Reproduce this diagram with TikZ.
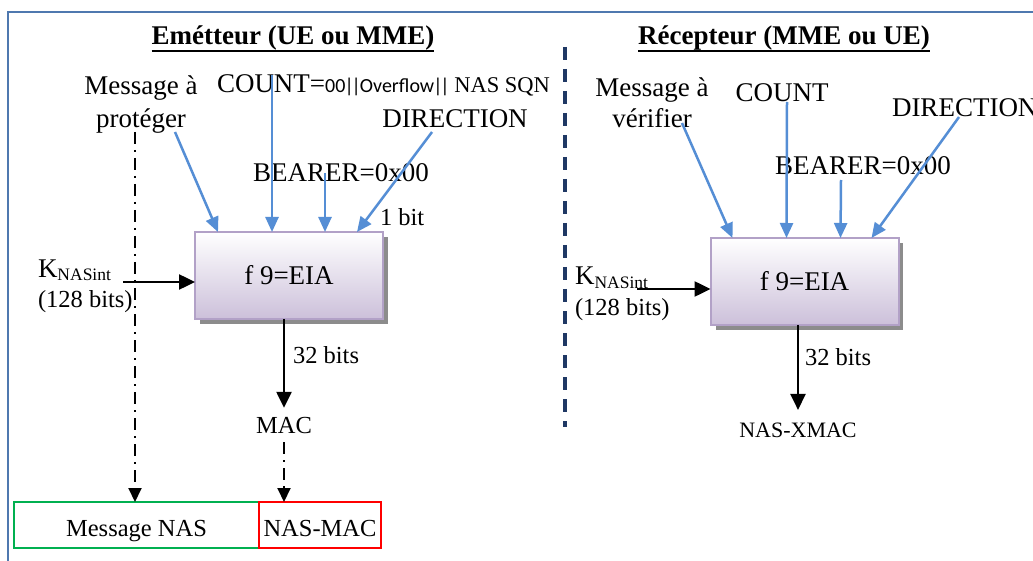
\documentclass[tikz,border=0pt]{standalone}
\usepackage{fontspec}
\setmainfont{Liberation Serif}
\newfontfamily\calibrifont{Carlito}
\usetikzlibrary{arrows.meta,calc}

\definecolor{frameblue}{RGB}{79,120,175}
\definecolor{arrowblue}{RGB}{85,142,213}
\definecolor{sepblue}{RGB}{31,56,100}
\definecolor{boxborder}{RGB}{178,161,199}
\definecolor{boxbottom}{RGB}{204,192,218}
\definecolor{shadowgray}{RGB}{140,140,140}
\definecolor{nasgreen}{RGB}{0,176,80}
\definecolor{nasred}{RGB}{255,0,0}

\newcommand\fsA{\fontsize{27}{33}\selectfont}
\newcommand\fsB{\fontsize{24.5}{29}\selectfont}
\newcommand\fsC{\fontsize{22}{26}\selectfont}
\newcommand\vbar{\kern-1pt|\kern-1pt}

\begin{document}
\begin{tikzpicture}[x=1pt,y=-1pt,
  every node/.style={inner sep=0pt,outer sep=0pt},
  ttl/.style={font=\fsA\bfseries, anchor=base},
  lbl/.style={font=\fsA, anchor=base},
  slbl/.style={font=\fsB, anchor=base},
  bluearr/.style={draw=arrowblue, line width=2.5pt, -{Triangle[length=15pt,width=13pt]}},
  blackarr/.style={draw=black, line width=2.5pt, -{Triangle[length=16pt,width=15pt]}},
  dashdotarr/.style={draw=black, line width=2pt, dash pattern=on 12pt off 6pt on 2pt off 6pt, -{Triangle[length=14pt,width=13pt]}},
  f9box/.style={draw=boxborder, line width=2pt, top color=white, bottom color=boxbottom, minimum width=188pt, minimum height=87pt, font=\fsA},
  nasbox/.style={line width=2pt, font=\fsB, minimum height=46pt, text height=23pt, text depth=0pt}
]
\useasboundingbox (0,0) rectangle (1033,561);
\fill[white] (0,0) rectangle (1033,561);

% frame
\draw[frameblue, line width=1.8pt] (8,580) -- (8,12) -- (1050,12);

% titles
\node[ttl] (tL) at (293,45) {Emétteur (UE ou MME)};
\draw[line width=2pt] ([yshift=-6pt]tL.base west) -- ([yshift=-6pt]tL.base east);
\node[ttl] (tR) at (784,45) {Récepteur (MME ou UE)};
\draw[line width=2pt] ([yshift=-6pt]tR.base west) -- ([yshift=-6pt]tR.base east);

% separator
\draw[sepblue, line width=3.5pt, dash pattern=on 13pt off 9pt] (565,47) -- (565,427);

% ===== left (emitter) =====
\node[lbl, align=center] (msgpL) at (141,128) {Message à\\protéger};
\node[lbl, anchor=base west] (countL) at (217,93) {COUNT={\calibrifont\fontsize{20}{23}\selectfont 00\vbar\vbar Overflow\vbar\vbar}{\fontsize{22.5}{26}\selectfont\ NAS SQN}};
\node[lbl] (dirL) at (455,128) {DIRECTION};
\node[lbl] (bearL) at (341,182) {BEARER=0x00};
\node[slbl, anchor=base west] (bitL) at (380,226) {1 bit};

\node[f9box] (f9L) at (289,275.5) {f 9=EIA};
\fill[shadowgray] ($(f9L.north east)+(1,5)$) rectangle ($(f9L.south east)+(4.5,4.5)$);
\fill[shadowgray] ($(f9L.south west)+(5,1)$) rectangle ($(f9L.south east)+(4.5,4.5)$);

\node[lbl, anchor=base west] (kL) at (38,277) {K{\fontsize{17.5}{20}\selectfont\raisebox{-3pt}{NASint}}};
\node[slbl, anchor=base west] (kbL) at (38,307) {(128 bits)};

\node[slbl, anchor=base west] (b32L) at (293,363) {32 bits};
\node[slbl, outer sep=9pt] (macL) at (284,433) {MAC};

\node[nasbox, draw=nasgreen, minimum width=245pt] (msg) at (136.5,525) {Message NAS};
\node[nasbox, draw=nasred, minimum width=122pt] (nasmac) at (320,525) {NAS-MAC};

\coordinate (dL) at (135,132);
\draw[dashdotarr] (dL) -- (dL |- msg.north);

\coordinate (pLs) at (175,132);
\coordinate (cLs) at (272,75);
\coordinate (bLs) at (325,173);
\coordinate (dirLs) at (432,132);
\draw[bluearr] (pLs) -- ($(f9L.north west)+(23,0)$);
\draw[bluearr] (cLs) -- ($(f9L.north west)+(77,0)$);
\draw[bluearr] (bLs) -- ($(f9L.north west)+(130,0)$);
\draw[bluearr] (dirLs) -- ($(f9L.north west)+(162,0)$);

\coordinate (kLs) at (123,282);
\draw[blackarr] (kLs) -- (kLs -| f9L.west);
\draw[blackarr] (f9L.south -| macL) -- (macL);
\draw[dashdotarr] (macL) -- (macL |- nasmac.north);

% ===== right (receiver) =====
\node[lbl, align=center, font=\fontsize{27}{31}\selectfont] (msgvR) at (652,128) {Message à\\vérifier};
\node[lbl] (countR) at (782,102) {COUNT};
\node[lbl, anchor=base west] (dirR) at (892,117) {DIRECTION};
\node[lbl, anchor=base west] (bearR) at (775,175) {BEARER=0x00};

\node[f9box] (f9R) at (804.5,281.5) {f 9=EIA};
\fill[shadowgray] ($(f9R.north east)+(1,5)$) rectangle ($(f9R.south east)+(4.5,4.5)$);
\fill[shadowgray] ($(f9R.south west)+(5,1)$) rectangle ($(f9R.south east)+(4.5,4.5)$);

\node[lbl, anchor=base west] (kR) at (575,285) {K{\fontsize{17.5}{20}\selectfont\raisebox{-3pt}{NASint}}};
\node[slbl, anchor=base west] (kbR) at (575,315) {(128 bits)};

\node[slbl, anchor=base west] (b32R) at (805,365) {32 bits};
\node[font=\fsC, anchor=base, outer sep=12.5pt] (xmac) at (798,437) {NAS-XMAC};

\coordinate (pRs) at (682,123);
\coordinate (cRs) at (787,102);
\coordinate (bRs) at (841,180);
\coordinate (dirRs) at (959,117);
\draw[bluearr] (pRs) -- ($(f9R.north west)+(22,0)$);
\draw[bluearr] (cRs) -- ($(f9R.north west)+(76,0)$);
\draw[bluearr] (bRs) -- ($(f9R.north west)+(130,0)$);
\draw[bluearr] (dirRs) -- ($(f9R.north west)+(161,0)$);

\coordinate (kRs) at (637,289);
\draw[blackarr] (kRs) -- (kRs -| f9R.west);
\draw[blackarr] (f9R.south -| xmac) -- (xmac);
\end{tikzpicture}
\end{document}
